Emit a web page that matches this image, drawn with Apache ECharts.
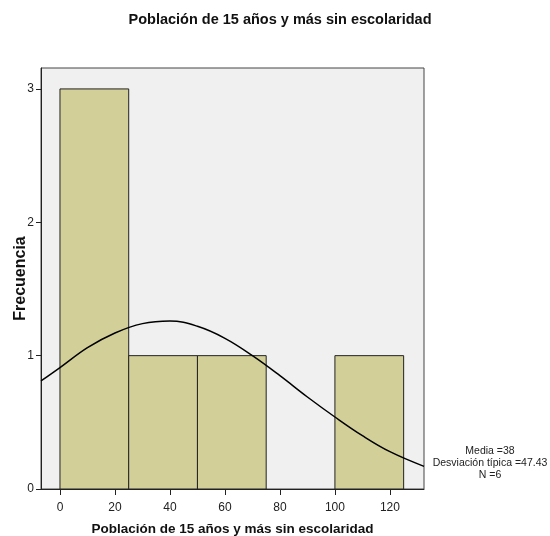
<!DOCTYPE html>
<html>
<head>
<meta charset="utf-8">
<script src="https://cdn.jsdelivr.net/npm/echarts@6/dist/echarts.min.js"></script>
<style>
  html, body { margin: 0; padding: 0; background: #fff; }
  #chart { width: 550px; height: 536px; }
</style>
</head>
<body>
<div id="chart"></div>
<script>
// histogram bins
var binStart = [0, 25, 50, 75, 100];
var binEnd = [25, 50, 75, 100, 125];
var counts = [3, 1, 1, 0, 1];

// normal curve
var curveX = [-6.9, 0, 10, 20, 30, 40, 50, 60, 70, 80, 90, 100, 110, 120, 132.4];
var curveY = [0.81, 0.91, 1.06, 1.17, 1.24, 1.26, 1.22, 1.13, 1.00, 0.85, 0.69, 0.54, 0.40, 0.28, 0.17];

var xTicks = [0, 20, 40, 60, 80, 100, 120];
var yTicks = [0, 1, 2, 3];

var title = 'Población de 15 años y más sin escolaridad';
var stats = ['Media =38', 'Desviación típica =47.43', 'N =6'];

var font = 'Liberation Sans, Arial, sans-serif';

var chart = echarts.init(document.getElementById('chart'));

var bars = [];
binStart.forEach(function (s, i) {
  if (counts[i] > 0) bars.push([s, binEnd[i], counts[i]]);
});
var curve = curveX.map(function (x, i) { return [x, curveY[i]]; });

var option = {
  animation: false,
  grid: {
    left: 41, right: 126, top: 68, bottom: 47,
    outerBoundsMode: 'none', containLabel: false,
    show: true, backgroundColor: '#f0f0f0', borderColor: '#444', borderWidth: 1
  },
  xAxis: {
    type: 'value', min: -6.9, max: 132.4,
    name: title, nameLocation: 'middle', nameGap: 33, nameMoveOverlap: false,
    nameTextStyle: { fontFamily: font, fontSize: 13.5, fontWeight: 'bold', color: '#111' },
    axisLine: { show: true, onZero: false, lineStyle: { color: '#222' } },
    axisTick: { show: true, length: 6, customValues: xTicks, lineStyle: { color: '#222' } },
    axisLabel: { customValues: xTicks, fontFamily: font, fontSize: 12, color: '#222', margin: 13 },
    splitLine: { show: false }
  },
  yAxis: {
    type: 'value', min: 0, max: 3.157,
    name: 'Frecuencia', nameLocation: 'middle', nameGap: 12, nameMoveOverlap: false,
    nameTextStyle: { fontFamily: font, fontSize: 16, fontWeight: 'bold', color: '#111' },
    axisLine: { show: true, onZero: false, lineStyle: { color: '#222' } },
    axisTick: { show: true, length: 5, customValues: yTicks, lineStyle: { color: '#222' } },
    axisLabel: { customValues: yTicks, fontFamily: font, fontSize: 12, color: '#222', margin: 7 },
    splitLine: { show: false }
  },
  graphic: [{
    type: 'text', x: 280, y: 20,
    style: {
      text: title, align: 'center', verticalAlign: 'middle', fill: '#111',
      font: 'bold 14.5px ' + font
    }
  }, {
    type: 'text', x: 490, y: 445,
    style: {
      text: stats.join('\n'), align: 'center', fill: '#222',
      font: '10.5px ' + font, lineHeight: 12
    }
  }],
  series: [{
    type: 'custom',
    data: bars,
    renderItem: function (params, api) {
      var p0 = api.coord([api.value(0), api.value(2)]);
      var p1 = api.coord([api.value(1), 0]);
      return {
        type: 'rect',
        shape: { x: p0[0], y: p0[1], width: p1[0] - p0[0], height: p1[1] - p0[1] },
        style: { fill: '#d3cf98', stroke: '#222', lineWidth: 1 }
      };
    },
    encode: { x: [0, 1], y: 2 },
    z: 2
  }, {
    type: 'line',
    data: curve,
    smooth: 0.4,
    showSymbol: false,
    lineStyle: { color: '#000', width: 1.5 },
    z: 3
  }]
};

chart.setOption(option);
</script>
</body>
</html>
